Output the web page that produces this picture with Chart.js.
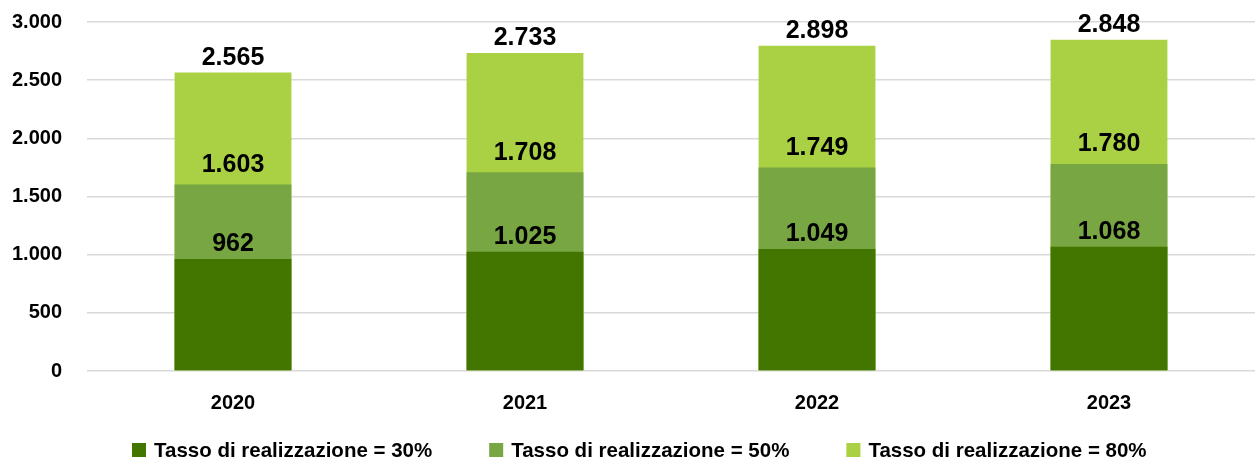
<!DOCTYPE html>
<html lang="it">
<head>
<meta charset="utf-8">
<title>Tasso di realizzazione</title>
<script src="https://cdn.jsdelivr.net/npm/chart.js@4.4.1/dist/chart.umd.min.js"></script>
<style>
    html, body { margin: 0; padding: 0; background: #ffffff; }
    #chart-wrap { position: relative; width: 1255px; height: 459px; }
</style>
</head>
<body>
<div id="chart-wrap">
    <canvas id="realizzazione-chart" width="1255" height="459"></canvas>
</div>
<script>
// --- Data ---
const years = ['2020', '2021', '2022', '2023'];
const seriesNames = [
    'Tasso di realizzazione = 30%',
    'Tasso di realizzazione = 50%',
    'Tasso di realizzazione = 80%'
];
const rate30 = [962, 1025, 1049, 1068];
const rate50 = [1603, 1708, 1749, 1780];
// the 2022 bar in the source is drawn lower than its printed label
const rate80 = [2565, 2733, 2795, 2848];
const rate80Labels = ['2.565', '2.733', '2.898', '2.848'];
const yTicks = [0, 500, 1000, 1500, 2000, 2500, 3000];

const COLORS = ['#437600', '#77a642', '#a9d143'];
const FONT = '"Liberation Sans", Arial, sans-serif';

// Italian thousands separator
const fmt = v => String(v).replace(/\B(?=(\d{3})+(?!\d))/g, '.');

// Value labels just above each bar top
const barLabels = {
    id: 'barLabels',
    afterDatasetsDraw(chart) {
        const ctx = chart.ctx;
        const offsets = [6, 11, 6];
        ctx.save();
        ctx.font = 'bold 25px ' + FONT;
        ctx.fillStyle = '#000000';
        ctx.textAlign = 'center';
        ctx.textBaseline = 'bottom';
        chart.data.datasets.forEach((ds, di) => {
            const meta = chart.getDatasetMeta(di);
            meta.data.forEach((bar, i) => {
                const text = ds.valueLabels ? ds.valueLabels[i] : fmt(ds.data[i]);
                ctx.fillText(text, bar.x, bar.y - offsets[di] + 4);
            });
        });
        ctx.restore();
    }
};

// Legend row at the bottom
const bottomLegend = {
    id: 'bottomLegend',
    afterDraw(chart) {
        const ctx = chart.ctx;
        const box = 14, gapText = 8, gapItem = 57;
        const cy = 450;
        let x = 132;
        ctx.save();
        ctx.font = 'bold 20.5px ' + FONT;
        ctx.textBaseline = 'middle';
        ctx.textAlign = 'left';
        chart.data.datasets.forEach(ds => {
            ctx.fillStyle = ds.backgroundColor;
            ctx.fillRect(x, cy - box / 2, box, box);
            ctx.fillStyle = '#000000';
            ctx.fillText(ds.label, x + box + gapText, cy + 1);
            x += box + gapText + ctx.measureText(ds.label).width + gapItem;
        });
        ctx.restore();
    }
};

new Chart(document.getElementById('realizzazione-chart'), {
    type: 'bar',
    data: {
        labels: years,
        datasets: [
            { label: seriesNames[0], data: rate30, backgroundColor: COLORS[0] },
            { label: seriesNames[1], data: rate50, backgroundColor: COLORS[1] },
            { label: seriesNames[2], data: rate80, backgroundColor: COLORS[2], valueLabels: rate80Labels }
        ]
    },
    options: {
        responsive: false,
        animation: false,
        layout: { padding: { top: 22, right: 0, bottom: 40, left: 0 } },
        datasets: {
            bar: { grouped: false, categoryPercentage: 1, barPercentage: 0.4, borderWidth: 0 }
        },
        plugins: {
            legend: { display: false },
            tooltip: { enabled: false }
        },
        scales: {
            x: {
                grid: { display: false },
                border: { display: false },
                ticks: {
                    color: '#000000',
                    font: { family: FONT, size: 20, weight: 'bold' },
                    padding: 12
                },
                afterFit: scale => { scale.height = 48; }
            },
            y: {
                min: 0,
                max: 3000,
                afterBuildTicks: scale => { scale.ticks = yTicks.map(v => ({ value: v })); },
                grid: { color: '#d9d9d9', lineWidth: 1.5, drawTicks: false },
                border: { display: false },
                ticks: {
                    color: '#000000',
                    font: { family: FONT, size: 20, weight: 'bold' },
                    padding: 25,
                    callback: v => fmt(v)
                },
                afterFit: scale => {
                    scale.width = 87;
                    // keep the tick padding from pushing the plot area down
                    scale.paddingTop = 10;
                    scale.paddingBottom = 10;
                }
            }
        }
    },
    plugins: [barLabels, bottomLegend]
});
</script>
</body>
</html>
